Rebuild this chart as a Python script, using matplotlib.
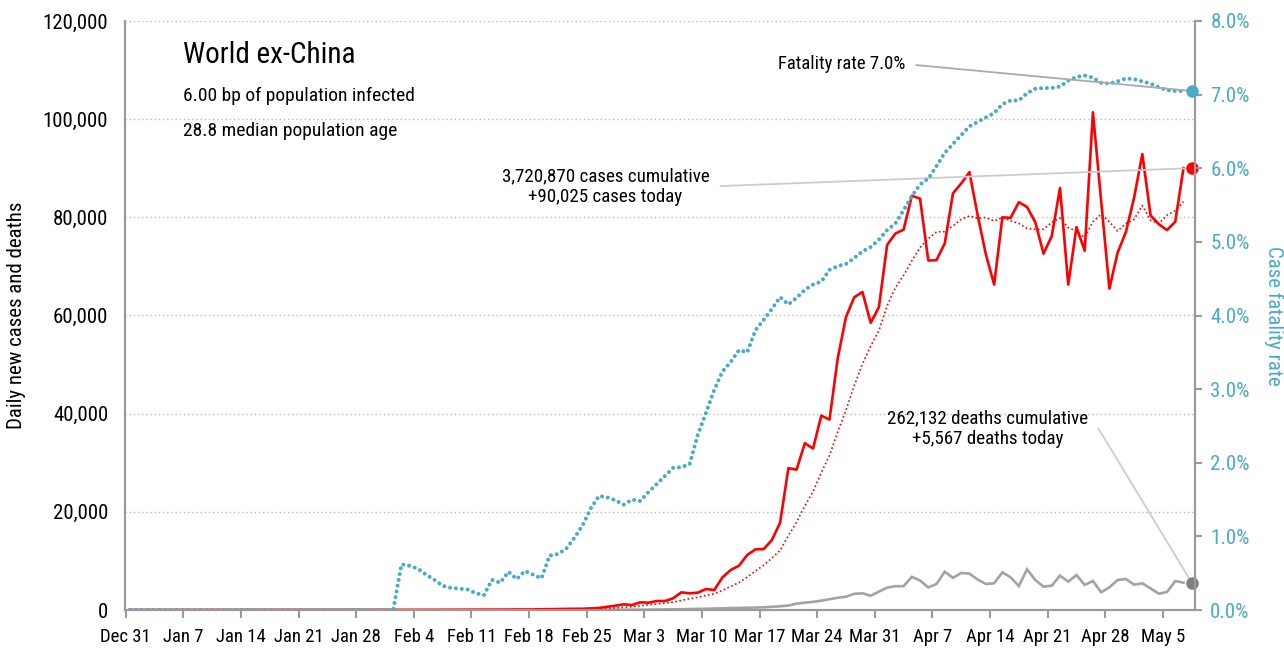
import matplotlib
matplotlib.use('Agg')
import matplotlib.pyplot as plt
from matplotlib import font_manager
import pandas as pd

# pick a narrow font if one is around
font_names = {f.name for f in font_manager.fontManager.ttflist}
fam = 'DejaVu Sans'
for name in ['Roboto Condensed', 'Liberation Sans Narrow', 'Open Sans Condensed', 'DejaVu Sans']:
	if name in font_names:
		fam = name
		break
plt.rcParams['font.family'] = [fam, 'DejaVu Sans']
plt.rcParams['font.stretch'] = 'condensed'

start = '2019-12-31'

# daily new cases, world ex-China (Dec 31 .. May 7)
cases = [0]*13 + [1, 0, 1, 0, 0, 0, 1, 2,
	5, 8, 10, 12, 20, 15, 18, 22, 25, 30, 20,
	25, 20, 18, 15, 20, 25, 30, 15, 20, 25, 30, 40,
	50, 60, 80, 100, 90, 120, 140, 180, 200, 220, 250,
	250, 330, 420, 650, 880,
	1160, 1020, 1560, 1490, 1830, 1830, 2380, 3600, 3400, 3530,
	4280, 4070, 6660, 8150, 9030, 11200, 12360, 12400, 14260, 17790,
	28900, 28600, 34000, 32900, 39600, 38800, 51300, 59700, 63700, 64800,
	58500, 61700, 74400, 76700, 77500, 84400, 83800, 71200, 71300, 74700,
	84900, 86900, 89200, 80400, 72400, 66300, 80000, 79900, 83100, 82100,
	79000, 72600, 76200, 86000, 66300, 78000, 73200, 101400, 83300, 65500,
	72800, 77000, 84000, 92900, 80400, 78600, 77400, 79100, 90025]

# daily new deaths
deaths = [0]*51 + [5, 10, 8, 12, 15, 20, 25, 30, 40,
	45, 50, 60, 70, 90, 110, 140, 150, 200, 230,
	250, 300, 350, 400, 420, 470, 500, 550, 650, 750,
	900, 1300, 1500, 1650, 1900, 2200, 2500, 2700, 3300, 3400,
	2900, 3750, 4550, 4850, 4850, 6750, 6000, 4600, 5300, 7800,
	6550, 7550, 7400, 6200, 5300, 5450, 7670, 6650, 4890, 8290,
	6110, 4750, 4960, 7000, 5770, 7130, 5090, 5910, 3600, 4620,
	6110, 6310, 5160, 5430, 4410, 3330, 3670, 5900, 5567]

# case fatality rate, %
cfr = [0]*33 + [0.62, 0.60, 0.56, 0.48, 0.41, 0.33, 0.30,
	0.29, 0.28, 0.23, 0.20, 0.41, 0.37, 0.52, 0.42, 0.53, 0.48,
	0.43, 0.74, 0.76, 0.83, 0.98, 1.15, 1.38, 1.55, 1.53, 1.49,
	1.43, 1.50, 1.48, 1.60, 1.71, 1.82, 1.93, 1.94, 1.98, 2.38,
	2.68, 2.99, 3.24, 3.37, 3.53, 3.50, 3.80, 3.94, 4.09, 4.25,
	4.15, 4.24, 4.35, 4.42, 4.46, 4.62, 4.67, 4.70, 4.78, 4.87,
	4.93, 5.03, 5.16, 5.25, 5.43, 5.62, 5.78, 5.86, 6.03, 6.21,
	6.33, 6.45, 6.57, 6.63, 6.69, 6.75, 6.87, 6.92, 6.92, 7.02,
	7.08, 7.09, 7.09, 7.11, 7.19, 7.24, 7.26, 7.23, 7.16, 7.15,
	7.18, 7.22, 7.21, 7.18, 7.15, 7.10, 7.06, 7.05, 7.05]

cum_cases = '3,720,870'
cum_deaths = '262,132'

dates = pd.date_range(start, periods=len(cases)) + pd.Timedelta(hours=12)
last = dates[-1] + pd.Timedelta(days=1)
avg = pd.Series(cases).rolling(7, min_periods=1).mean()

RED = '#ff0000'
TEAL = '#4aabc8'
GRAY = '#a3a3a3'
AXC = '#9a9a9a'

fig = plt.figure(figsize=(12.84, 6.52), dpi=100)
ax = fig.add_axes([125/1284, 42/652, 1070/1284, 589/652])
ax2 = ax.twinx()

ax.plot(dates, deaths, color=GRAY, lw=1.9, solid_joinstyle='miter')
ax.plot(dates, avg, color=RED, lw=1.2, ls=(0, (1, 1.5)))
ax.plot(dates, cases, color=RED, lw=1.9)
ax2.plot(dates, cfr, color=TEAL, lw=2.9, ls=(0, (0.01, 1.45)), dash_capstyle='round')

ax.plot([last], [cases[-1]], 'o', color=RED, ms=8, clip_on=False, zorder=5)
ax.plot([last], [deaths[-1]], 'o', color='#808080', ms=8, clip_on=False, zorder=5)
ax2.plot([last], [cfr[-1]], 'o', color=TEAL, ms=8, clip_on=False, zorder=5)

ax.set_ylim(0, 120000)
ax2.set_ylim(0, 8)
ax.set_xlim(pd.Timestamp(start) - pd.Timedelta(hours=2), pd.Timestamp(start) + pd.Timedelta(days=129.9))

ticks = pd.date_range(start, '2020-05-05', freq='7D')
ax.set_xticks(ticks)
ax.set_xticklabels([f'{t:%b} {t.day}' for t in ticks])
yt = list(range(0, 120001, 20000))
ax.set_yticks(yt)
ax.set_yticklabels([f'{v:,}' for v in yt])
ax2.set_yticks(range(0, 9))
ax2.set_yticklabels([f'{v:.1f}%' for v in range(0, 9)])

ax.yaxis.grid(True, ls=(0, (1, 2)), color='#bbbbbb', lw=1)
ax.set_axisbelow(True)

for a in (ax, ax2):
	a.spines['top'].set_visible(False)
	for s in ('left', 'bottom', 'right'):
		a.spines[s].set_color(AXC)
		a.spines[s].set_linewidth(1.5)
ax.tick_params(axis='x', length=6, width=1.5, color=AXC, labelsize=13.5, pad=7)
ax.tick_params(axis='y', length=0, labelsize=15, pad=12)
ax2.tick_params(axis='y', length=5, width=1.5, color=AXC, labelsize=15, labelcolor=TEAL, pad=6)

ax.set_ylabel('Daily new cases and deaths', fontsize=15, labelpad=12)
ax2.set_ylabel('Case fatality rate', fontsize=15, color=TEAL, rotation=270, labelpad=24)

ax.text(0.054, 0.942, 'World ex-China', transform=ax.transAxes, fontsize=21, va='center', ha='left')
ax.text(0.054, 0.873, '6.00 bp of population infected', transform=ax.transAxes, fontsize=14, va='center', ha='left')
ax.text(0.054, 0.813, '28.8 median population age', transform=ax.transAxes, fontsize=14, va='center', ha='left')

ax2.annotate(f'Fatality rate {cfr[-1]:.1f}%', xy=(last, cfr[-1]), xytext=(0.729, 0.927),
	textcoords='axes fraction', ha='right', va='center', fontsize=13.5,
	arrowprops=dict(arrowstyle='-', color='#aaaaaa', lw=1.3, relpos=(1, 0.5), shrinkA=6, shrinkB=0))
ax.annotate(f'{cum_cases} cases cumulative\n+{cases[-1]:,} cases today', xy=(last, cases[-1]), xytext=(0.449, 0.719),
	textcoords='axes fraction', ha='center', va='center', fontsize=13.7, multialignment='center', linespacing=1.2,
	arrowprops=dict(arrowstyle='-', color='#cccccc', lw=1.3, relpos=(1, 0.5), shrinkA=6, shrinkB=0))
ax.annotate(f'{cum_deaths} deaths cumulative\n+{deaths[-1]:,} deaths today', xy=(last, deaths[-1]), xytext=(0.8065, 0.308),
	textcoords='axes fraction', ha='center', va='center', fontsize=13.7, multialignment='center', linespacing=1.2,
	arrowprops=dict(arrowstyle='-', color='#cccccc', lw=1.3, relpos=(1, 0.5), shrinkA=5, shrinkB=0,
		connectionstyle='arc,angleA=0,angleB=0,armA=10,armB=0,rad=0'))

fig.savefig('out.png', dpi=100)
